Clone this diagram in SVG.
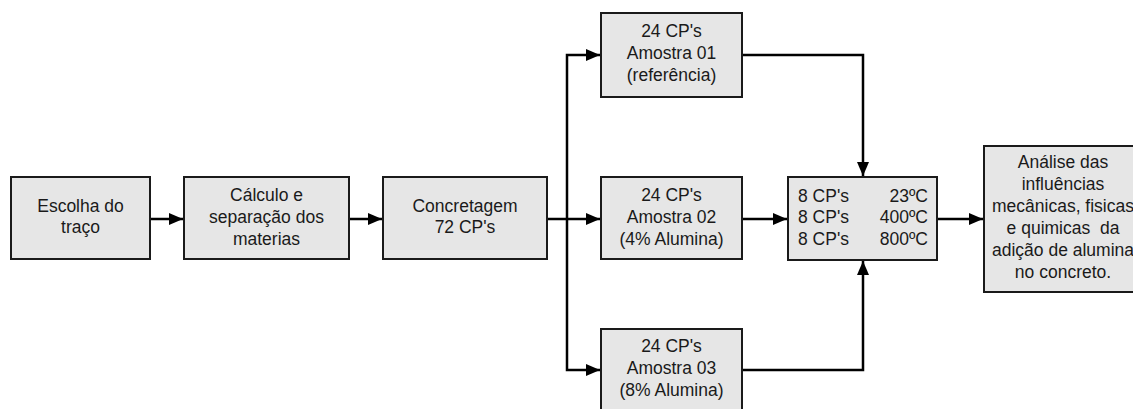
<svg xmlns="http://www.w3.org/2000/svg" width="1133" height="409" viewBox="0 0 1133 409">
<defs>
<style>
.box{fill:#e6e6e6;stroke:#1a1a1a;stroke-width:2}
.t{font-family:"Liberation Sans",Arial,sans-serif;font-size:17.5px;fill:#1a1a1a;text-anchor:middle}
.l{font-family:"Liberation Sans",Arial,sans-serif;font-size:17.5px;fill:#1a1a1a}
.c{fill:none;stroke:#000;stroke-width:2.5}
</style>
<marker id="ah" markerWidth="14" markerHeight="12" refX="14" refY="6" orient="auto" markerUnits="userSpaceOnUse">
<path d="M0,0 L14,6 L0,12 Z" fill="#000"/>
</marker>
</defs>
<rect width="1133" height="409" fill="#fff"/>
<g id="connectors">
<path class="c" d="M150,219 H183" marker-end="url(#ah)"/>
<path class="c" d="M349,219 H382" marker-end="url(#ah)"/>
<path class="c" d="M547,219 H600" marker-end="url(#ah)"/>
<path class="c" d="M567,219 V55 H600" marker-end="url(#ah)"/>
<path class="c" d="M567,219 V370 H600" marker-end="url(#ah)"/>
<path class="c" d="M742,219 H787" marker-end="url(#ah)"/>
<path class="c" d="M742,55 H863 V176" marker-end="url(#ah)"/>
<path class="c" d="M742,370 H863 V261" marker-end="url(#ah)"/>
<path class="c" d="M937,219 H983" marker-end="url(#ah)"/>
</g>
<g id="n1">
<rect class="box" x="11" y="177" width="139" height="82"/>
<text class="t" x="80.5" y="212">Escolha do</text>
<text class="t" x="80.5" y="233">traço</text>
</g>
<g id="n2">
<rect class="box" x="184" y="177" width="165" height="82"/>
<text class="t" x="266.5" y="201">Cálculo e</text>
<text class="t" x="266.5" y="223">separação dos</text>
<text class="t" x="266.5" y="245">materias</text>
</g>
<g id="n3">
<rect class="box" x="383" y="177" width="164" height="82"/>
<text class="t" x="465" y="212">Concretagem</text>
<text class="t" x="465" y="233">72 CP's</text>
</g>
<g id="n4">
<rect class="box" x="601" y="13" width="141" height="84"/>
<text class="t" x="671.5" y="37">24 CP's</text>
<text class="t" x="671.5" y="59">Amostra 01</text>
<text class="t" x="671.5" y="81">(referência)</text>
</g>
<g id="n5">
<rect class="box" x="601" y="177" width="141" height="82"/>
<text class="t" x="671.5" y="201">24 CP's</text>
<text class="t" x="671.5" y="223">Amostra 02</text>
<text class="t" x="671.5" y="245">(4% Alumina)</text>
</g>
<g id="n6">
<rect class="box" x="601" y="329" width="141" height="90"/>
<text class="t" x="671.5" y="352">24 CP's</text>
<text class="t" x="671.5" y="374">Amostra 03</text>
<text class="t" x="671.5" y="396">(8% Alumina)</text>
</g>
<g id="n7">
<rect class="box" x="788" y="177" width="149" height="83"/>
<text class="l" x="798" y="202">8 CP's</text>
<text class="l" x="798" y="223">8 CP's</text>
<text class="l" x="798" y="245">8 CP's</text>
<text class="l" x="928" y="202" text-anchor="end">23ºC</text>
<text class="l" x="928" y="223" text-anchor="end">400ºC</text>
<text class="l" x="928" y="245" text-anchor="end">800ºC</text>
</g>
<g id="n8">
<rect class="box" x="984" y="146" width="160" height="146"/>
<text class="t" x="1063" y="168">Análise das</text>
<text class="t" x="1063" y="190">influências</text>
<text class="t" x="1063" y="212">mecânicas, fisicas</text>
<text class="t" x="1063" y="234" xml:space="preserve">e quimicas  da</text>
<text class="t" x="1063" y="256">adição de alumina</text>
<text class="t" x="1063" y="278">no concreto.</text>
</g>
</svg>
